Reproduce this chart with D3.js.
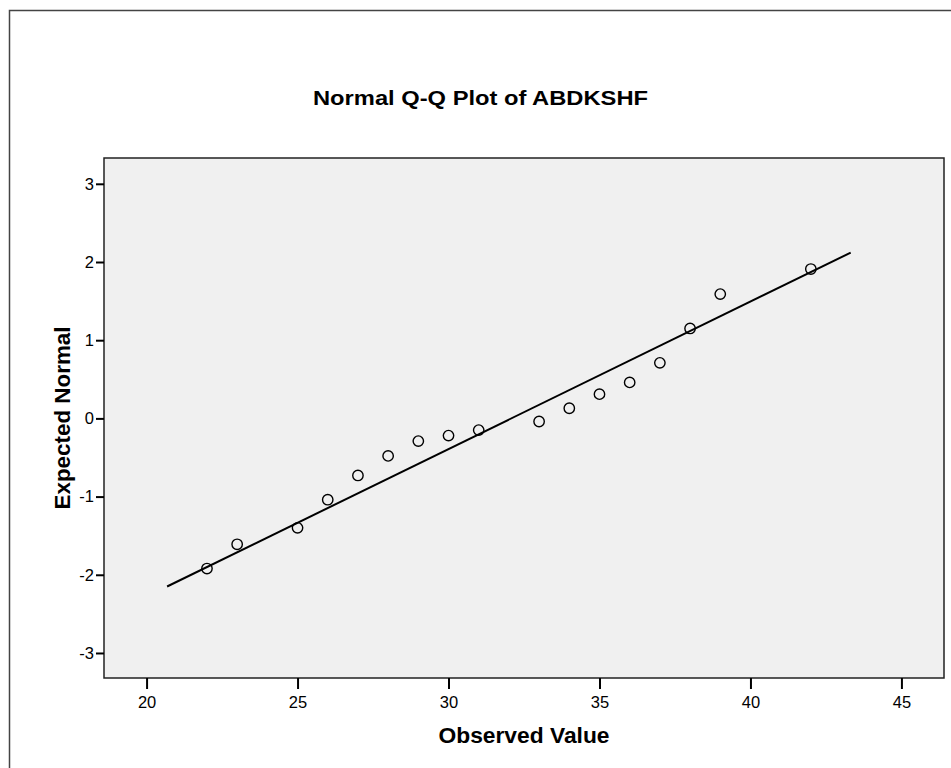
<!DOCTYPE html>
<html>
<head>
<meta charset="utf-8">
<script src="https://cdn.jsdelivr.net/npm/d3@7"></script>
<style>
  html, body { margin: 0; padding: 0; background: #fff; }
  svg { display: block; }
  text { font-family: "Liberation Sans", Arial, sans-serif; fill: #000; }
</style>
</head>
<body>
<svg id="chart" width="951" height="768"></svg>
<script>
const title = "Normal Q-Q Plot of ABDKSHF";
const xLabel = "Observed Value";
const yLabel = "Expected Normal";
const observed = [22, 23, 25, 26, 27, 28, 29, 30, 31, 33, 34, 35, 36, 37, 38, 39, 42];
const expected = [-1.92, -1.61, -1.40, -1.04, -0.73, -0.48, -0.29, -0.22, -0.15, -0.04, 0.13, 0.31, 0.46, 0.71, 1.15, 1.59, 1.91];
const lineX = [20.68, 43.32];
const lineY = [-2.15, 2.12];
const xTicks = [20, 25, 30, 35, 40, 45];
const yTicks = [-3, -2, -1, 0, 1, 2, 3];

const svg = d3.select("#chart");
const plot = { left: 104, top: 158, right: 944, bottom: 678 };
const FONT = "Liberation Sans, Arial, sans-serif";

// outer frame
svg.append("rect")
  .attr("x", 9.5).attr("y", 10.5).attr("width", 980).attr("height", 800)
  .attr("fill", "none").attr("stroke", "#444").attr("stroke-width", 1.5);

const x = d3.scaleLinear().domain([18.59, 46.41]).range([plot.left, plot.right]);
const y = d3.scaleLinear().domain([-3.32, 3.33]).range([plot.bottom, plot.top]);

svg.append("rect")
  .attr("x", plot.left).attr("y", plot.top)
  .attr("width", plot.right - plot.left).attr("height", plot.bottom - plot.top)
  .attr("fill", "#f0f0f0").attr("stroke", "#222").attr("stroke-width", 1.5);

const fmt = v => String(v);

// axes
const xAxis = svg.append("g")
  .attr("transform", `translate(0,${plot.bottom})`)
  .call(d3.axisBottom(x).tickValues(xTicks).tickFormat(fmt).tickSize(11).tickSizeOuter(0).tickPadding(7));
xAxis.select(".domain").remove();
xAxis.selectAll(".tick line").attr("stroke", "#000").attr("stroke-width", 2);
xAxis.selectAll(".tick text").attr("fill", "#000")
  .style("font-size", "16.5px").style("font-family", FONT);

const yAxis = svg.append("g")
  .attr("transform", `translate(${plot.left},0)`)
  .call(d3.axisLeft(y).tickValues(yTicks).tickFormat(fmt).tickSize(8).tickSizeOuter(0).tickPadding(2));
yAxis.select(".domain").remove();
yAxis.selectAll(".tick line").attr("stroke", "#000").attr("stroke-width", 2);
yAxis.selectAll(".tick text").attr("fill", "#000")
  .style("font-size", "16.5px").style("font-family", FONT);

// reference line
const linePts = lineX.map((v, i) => [v, lineY[i]]);
svg.append("path")
  .datum(linePts)
  .attr("d", d3.line().x(d => x(d[0])).y(d => y(d[1])))
  .attr("stroke", "#000").attr("stroke-width", 2).attr("fill", "none");

// points
svg.append("g").selectAll("circle")
  .data(observed.map((v, i) => [v, expected[i]]))
  .join("circle")
  .attr("cx", d => x(d[0])).attr("cy", d => y(d[1]))
  .attr("r", 5.2)
  .attr("fill", "none").attr("stroke", "#000").attr("stroke-width", 1.4);

// title & labels
svg.append("text")
  .attr("x", 480.5).attr("y", 105)
  .attr("text-anchor", "middle").attr("font-size", 21).attr("font-weight", "bold")
  .attr("textLength", 335).attr("lengthAdjust", "spacingAndGlyphs")
  .text(title);

svg.append("text")
  .attr("x", 524).attr("y", 743)
  .attr("text-anchor", "middle").attr("font-size", 21.5).attr("font-weight", "bold")
  .attr("textLength", 171).attr("lengthAdjust", "spacingAndGlyphs")
  .text(xLabel);

svg.append("text")
  .attr("transform", `translate(70,${(plot.top + plot.bottom) / 2}) rotate(-90)`)
  .attr("text-anchor", "middle").attr("font-size", 21.5).attr("font-weight", "bold")
  .attr("textLength", 183).attr("lengthAdjust", "spacingAndGlyphs")
  .text(yLabel);
</script>
</body>
</html>
